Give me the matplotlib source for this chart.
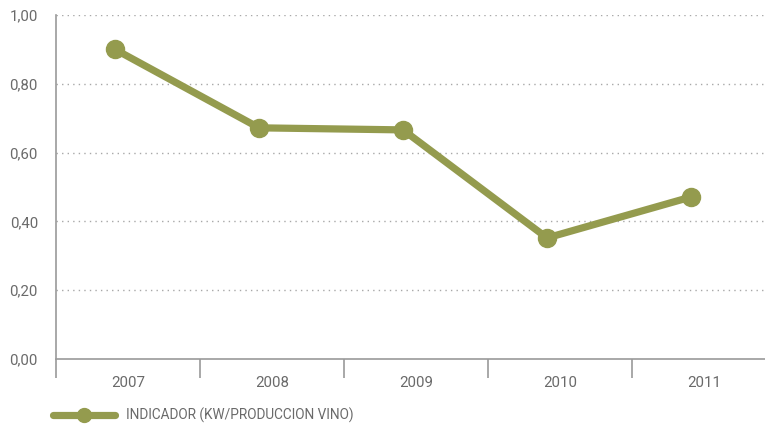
import matplotlib
matplotlib.use("Agg")
import matplotlib.pyplot as plt
from matplotlib.lines import Line2D
import numpy as np

years = ["2007", "2008", "2009", "2010", "2011"]
indicador = [0.90, 0.672, 0.666, 0.352, 0.471]
y_ticks = [0.0, 0.2, 0.4, 0.6, 0.8, 1.0]
y_tick_labels = ["0,00", "0,20", "0,40", "0,60", "0,80", "1,00"]
series_label = "INDICADOR (KW/PRODUCCION VINO)"

olive = "#949b4e"
text_gray = "#6a6a6a"
axis_gray = "#9a9a9a"

plt.rcParams["font.family"] = ["Roboto", "DejaVu Sans"]

fig = plt.figure(figsize=(7.65, 4.24), dpi=100)
ax = fig.add_axes([56 / 765, 65 / 424, 720 / 765, 344 / 424])

x = np.arange(len(years))
# points sit slightly left of the category centre
ax.plot(x - 0.09, indicador, color=olive, lw=5.2, marker="o", ms=13,
        solid_capstyle="round", solid_joinstyle="round", zorder=3, clip_on=False)

ax.set_xlim(-0.5, len(years) - 0.5)
ax.set_ylim(0, 1.0)

ax.set_yticks(y_ticks)
ax.set_yticklabels(y_tick_labels)
ax.tick_params(axis="y", length=0, pad=13, labelsize=10.8, labelcolor=text_gray)

ax.set_xticks(x)
ax.set_xticklabels(years)
ax.tick_params(axis="x", which="major", length=0, pad=12, labelsize=10.8,
               labelcolor=text_gray)
ax.set_xticks(np.arange(-0.5, len(years) + 0.5, 1.0), minor=True)
ax.tick_params(axis="x", which="minor", length=14, width=1.2, color=axis_gray,
               direction="out")

for v in y_ticks[1:]:
    ax.axhline(v, color="#a8a8a8", lw=1.0, ls=(0, (1, 3)), zorder=1)

for side in ("top", "right"):
    ax.spines[side].set_visible(False)
for side in ("left", "bottom"):
    ax.spines[side].set_color(axis_gray)
    ax.spines[side].set_linewidth(1.2)
ax.spines["left"].set_bounds(0, 1.0)

handle = Line2D([], [], color=olive, lw=5.2, marker="o", ms=10,
                solid_capstyle="round")
fig.legend([handle], [series_label], loc="center left",
           bbox_to_anchor=(46 / 765, 1 - 415.5 / 424), frameon=False,
           handlelength=4.6, handletextpad=0.75, fontsize=9.8,
           labelcolor=text_gray, borderpad=0)

fig.savefig("out.png", dpi=100)
